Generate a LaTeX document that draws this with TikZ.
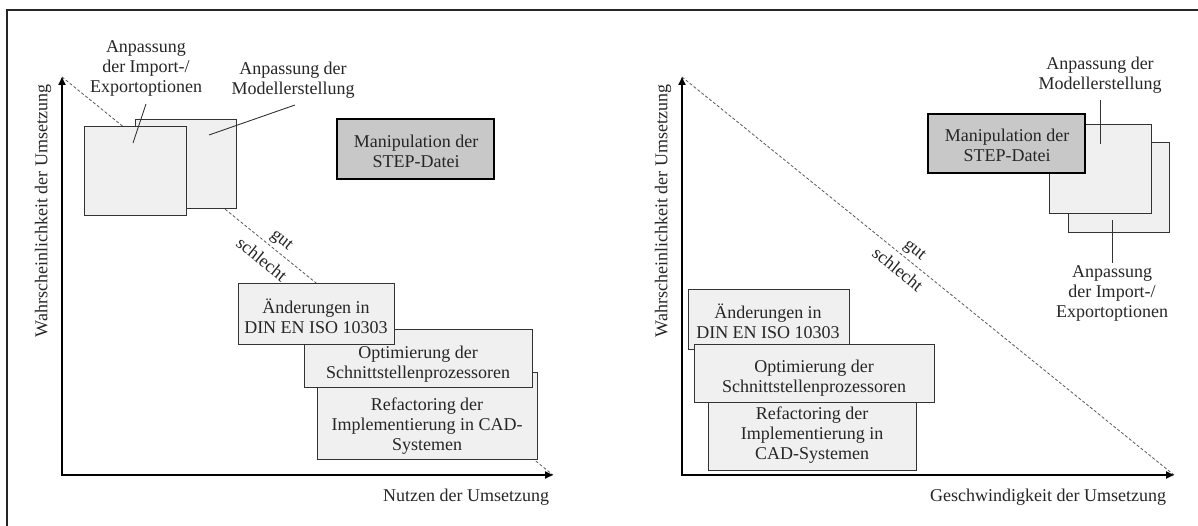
\documentclass[tikz,border=0pt]{standalone}
\usepackage{fontspec}
\setmainfont{Liberation Serif}
\usetikzlibrary{arrows.meta}
\definecolor{ink}{HTML}{262626}
\definecolor{boxfill}{HTML}{F0F0F0}
\definecolor{keyfill}{HTML}{C8C8C8}
\definecolor{edge}{HTML}{333333}
\tikzset{
  every node/.style={font=\fontsize{18}{20}\selectfont, text=ink, inner sep=0pt, outer sep=0pt},
  card/.style={draw=edge, line width=1pt, fill=boxfill, rectangle},
  keycard/.style={draw=black, line width=2pt, fill=keyfill, rectangle},
  txt/.style={align=center},
  axis/.style={draw=black, line width=1.8pt, line cap=rect, -{Triangle[length=8pt,width=7pt]}},
  diag/.style={draw=black!65, line width=0.8pt, dash pattern=on 3pt off 2pt},
  leader/.style={draw=edge, line width=0.9pt},
  frame/.style={draw=ink, line width=2pt},
}
\begin{document}
\begin{tikzpicture}[x=1pt,y=-1pt]
\useasboundingbox (0,0) rectangle (1198,526);

% outer frame (open to the right and bottom)
\draw[frame] (7,530) -- (7,10) -- (1202,10);

% ---------------- left chart: Nutzen ----------------
\coordinate (oL) at (62,475);
\coordinate (yL) at (62,77);
\coordinate (xL) at (553,475);
\draw[diag] (yL) -- (xL);
\draw[axis] (oL) -- (yL);
\draw[axis] (oL) -- (xL);
\node[rotate=90] (ylabL) at (43,211) {Wahrscheinlichkeit der Umsetzung};
\node[anchor=east] (xlabL) at (549,497) {Nutzen der Umsetzung};

\node[card, minimum width=101pt, minimum height=89pt] (ModellL) at (185.5,164.5) {};
\node[card, minimum width=102pt, minimum height=89pt] (ImportL) at (135,171.5) {};
\node[keycard, minimum width=157pt, minimum height=60pt] (ManipL) at (415.5,149) {};
\node[txt] (ManipLt) at (416,151.5) {Manipulation der\\STEP-Datei};

\node[card, minimum width=220pt, minimum height=87pt] (RefL) at (427,415.5) {};
\node[card, minimum width=228pt, minimum height=58pt] (OptL) at (418,358) {};
\node[card, minimum width=156pt, minimum height=60pt] (AendL) at (316,314) {};
\node[txt] (RefLt) at (427,426) {Refactoring der\\Implementierung in CAD-\\Systemen};
\node[txt] (OptLt) at (418,364) {Optimierung der\\Schnittstellenprozessoren};
\node[txt] (AendLt) at (316,316) {Änderungen in\\DIN EN ISO 10303};

\node[txt] (lblImportL) at (146,68) {Anpassung\\der Import-/\\Exportoptionen};
\node[txt] (lblModellL) at (293,80) {Anpassung der\\Modellerstellung};
\coordinate (ldImportL) at (146,104);
\coordinate (tpImportL) at (133,143);
\coordinate (ldModellL) at (295,105);
\coordinate (tpModellL) at (209,135);
\draw[leader] (ldImportL) -- (tpImportL);
\draw[leader] (ldModellL) -- (tpModellL);

\node[rotate=-39] (gutL) at (281,241) {gut};
\node[rotate=-39] (schlechtL) at (262,259) {schlecht};

% ---------------- right chart: Geschwindigkeit ----------------
\coordinate (oR) at (682,475);
\coordinate (yR) at (682,77);
\coordinate (xR) at (1174,475);
\draw[diag] (yR) -- (xR);
\draw[axis] (oR) -- (yR);
\draw[axis] (oR) -- (xR);
\node[rotate=90] (ylabR) at (663,211) {Wahrscheinlichkeit der Umsetzung};
\node[anchor=east] (xlabR) at (1166,497) {Geschwindigkeit der Umsetzung};

\node[card, minimum width=101pt, minimum height=90pt] (ImportR) at (1118.5,188) {};
\node[card, minimum width=102pt, minimum height=89pt] (ModellR) at (1100,169.5) {};
\node[keycard, minimum width=157pt, minimum height=59pt] (ManipR) at (1006.5,143.5) {};
\node[txt] (ManipRt) at (1007,145.5) {Manipulation der\\STEP-Datei};

\node[card, minimum width=161pt, minimum height=59pt] (AendR) at (768.5,319.5) {};
\node[card, minimum width=208pt, minimum height=68pt] (RefR) at (812,436) {};
\node[card, minimum width=240pt, minimum height=58pt] (OptR) at (814,373) {};
\node[txt] (AendRt) at (768,321) {Änderungen in\\DIN EN ISO 10303};
\node[txt] (OptRt) at (814,378) {Optimierung der\\Schnittstellenprozessoren};
\node[txt] (RefRt) at (812,435) {Refactoring der\\Implementierung in\\CAD-Systemen};

\node[txt] (lblModellR) at (1100,75) {Anpassung der\\Modellerstellung};
\node[txt] (lblImportR) at (1112,293) {Anpassung\\der Import-/\\Exportoptionen};
\coordinate (ldModellR) at (1100,100);
\coordinate (tpModellR) at (1100,144);
\coordinate (tpImportR) at (1112,220);
\coordinate (ldImportR) at (1112,263);
\draw[leader] (ldModellR) -- (tpModellR);
\draw[leader] (tpImportR) -- (ldImportR);

\node[rotate=-39] (gutR) at (914,251) {gut};
\node[rotate=-39] (schlechtR) at (898,269) {schlecht};
\end{tikzpicture}
\end{document}
